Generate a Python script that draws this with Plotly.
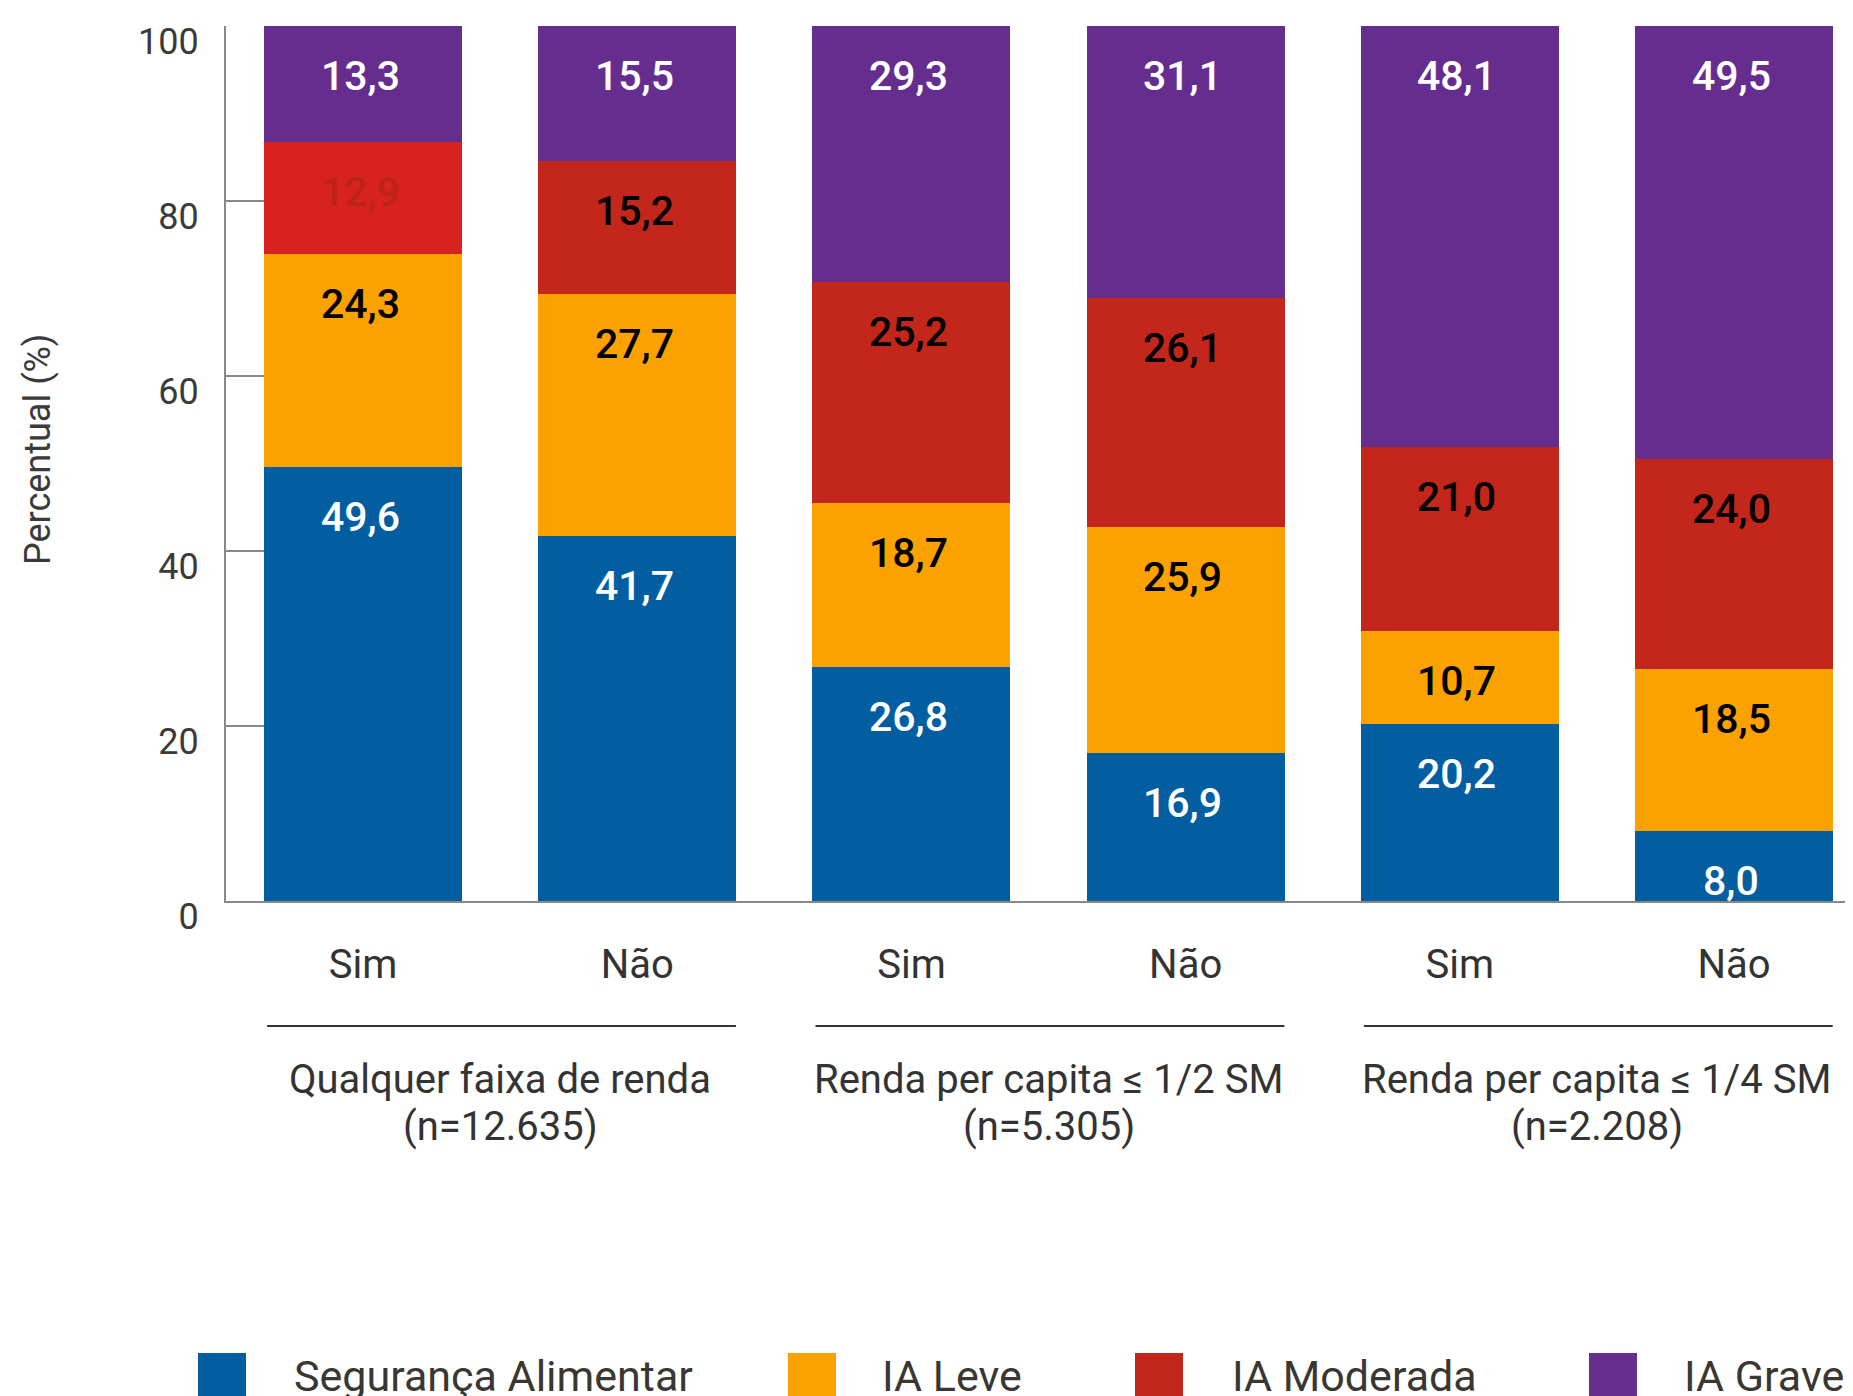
import plotly.graph_objects as go

# ---- data ----
categories = ["Sim", "Não", "Sim", "Não", "Sim", "Não"]
group_line1 = ["Qualquer faixa de renda", "Renda per capita ≤ 1/2 SM", "Renda per capita ≤ 1/4 SM"]
group_line2 = ["(n=12.635)", "(n=5.305)", "(n=2.208)"]
series_names = ["Segurança Alimentar", "IA Leve", "IA Moderada", "IA Grave"]
seg_alimentar = [49.6, 41.7, 26.8, 16.9, 20.2, 8.0]
ia_leve = [24.3, 27.7, 18.7, 25.9, 10.7, 18.5]
ia_moderada = [12.9, 15.2, 25.2, 26.1, 21.0, 24.0]
ia_grave = [13.3, 15.5, 29.3, 31.1, 48.1, 49.5]
y_ticks = [0, 20, 40, 60, 80, 100]

series = [seg_alimentar, ia_leve, ia_moderada, ia_grave]
colors = ["#035ea1", "#fba200", "#c3261a", "#652e8e"]
label_colors = ["white", "black", "black", "white"]

# ---- layout geometry (figure pixels; page body adds an 8px offset) ----
OFF = 8
W, H = 1853, 1396
L, T = 226 - OFF, 26 - OFF
PB = 901 - OFF  # y pixel of the x axis
plot_w = W - L
plot_h = PB - T

def pxx(px):  # image px -> paper
    return (px - OFF - L) / plot_w

def pxy(py):
    return (PB - (py - OFF)) / plot_h

x = list(range(len(categories)))
fig = go.Figure()
for i, (name, vals) in enumerate(zip(series_names, series)):
    cols = [colors[i]] * len(vals)
    if i == 2:
        cols[0] = "#d8221f"
    fig.add_trace(go.Bar(
        x=x, y=vals, name=name, marker=dict(color=cols, line=dict(width=0)),
        width=0.722, showlegend=False, hoverinfo="skip"))

# value labels, placed just below the top of each segment
cum = [0.0] * len(x)
for i, vals in enumerate(series):
    for j, v in enumerate(vals):
        cum[j] += v
        top = min(cum[j], 100)
        col = label_colors[i]
        if i == 2 and j == 0:
            col = "#bf221b"
        fig.add_annotation(
            x=j, y=top, xref="x", yref="y", text=f"{v:.1f}".replace(".", ","),
            showarrow=False, yanchor="middle", yshift=-50, xshift=-3,
            font=dict(family="Roboto", size=41, color=col, weight=500))

# group separators and group labels
for g in range(len(group_line1)):
    x0 = 2 * g
    fig.add_shape(type="line", xref="x", yref="paper",
                  x0=x0 - 0.35, x1=x0 + 1.36, y0=pxy(1026), y1=pxy(1026),
                  line=dict(color="#333333", width=2))
    fig.add_annotation(x=x0 + 0.5, y=pxy(1079), xref="x", yref="paper",
                       text=group_line1[g], showarrow=False, yanchor="middle",
                       font=dict(family="Roboto", size=40, color="#333333"))
    fig.add_annotation(x=x0 + 0.5, y=pxy(1126), xref="x", yref="paper",
                       text=group_line2[g], showarrow=False, yanchor="middle",
                       font=dict(family="Roboto", size=40, color="#333333"))

# y axis title
fig.add_annotation(x=pxx(38), y=pxy(450), xref="paper", yref="paper",
                   text="Percentual (%)", textangle=-90, showarrow=False,
                   xanchor="center", yanchor="middle",
                   font=dict(family="Roboto", size=36, color="#3a3a3a"))

# custom legend
legend_sq = [198, 788, 1135, 1589]
legend_tx = [292, 880, 1230, 1682]
for i, name in enumerate(series_names):
    fig.add_shape(type="rect", xref="paper", yref="paper",
                  x0=pxx(legend_sq[i]), x1=pxx(legend_sq[i] + 48),
                  y0=pxy(1353), y1=pxy(1401),
                  fillcolor=colors[i], line=dict(width=0))
    fig.add_annotation(x=pxx(legend_tx[i]), y=pxy(1376), xref="paper", yref="paper",
                       text=name, showarrow=False, xanchor="left", yanchor="middle",
                       font=dict(family="Roboto", size=43, color="#3a3733"))

fig.update_layout(
    width=W, height=H, barmode="stack",
    margin=dict(l=L, r=0, t=T, b=H - PB, pad=0),
    plot_bgcolor="white", paper_bgcolor="white",
    font=dict(family="Roboto", color="#333333"),
    bargap=0,
)
fig.update_xaxes(range=[-0.5, 5 + (W - (1734 - OFF)) / 274.2], tickmode="array",
                 tickvals=x, ticktext=categories, showline=True,
                 linecolor="#888888", linewidth=2, ticks="", showgrid=False,
                 zeroline=False, ticklabelstandoff=27,
                 tickfont=dict(family="Roboto", size=40, color="#333333"))
fig.update_yaxes(range=[0, 100], tickmode="array", tickvals=y_ticks,
                 showline=True, linecolor="#888888", linewidth=2,
                 ticks="inside", ticklen=38, tickwidth=2, tickcolor="#888888",
                 showgrid=False, zeroline=False, ticklabelstandoff=18,
                 ticklabelshift=15,
                 tickfont=dict(family="Roboto", size=36, color="#3a3a3a"))

fig.write_html("out.html")
